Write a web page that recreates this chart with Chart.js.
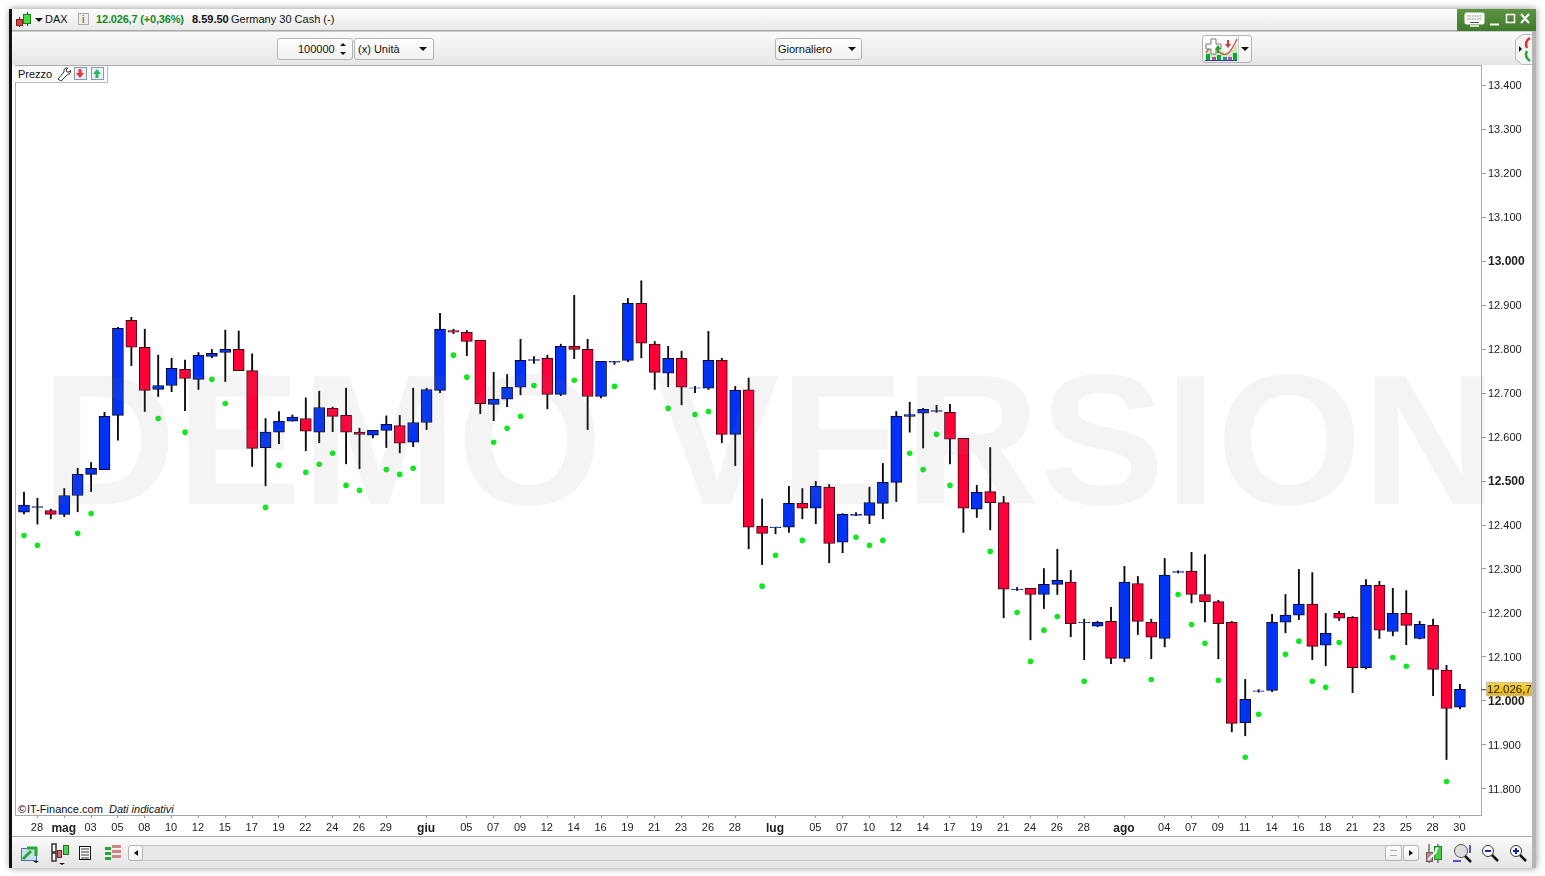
<!DOCTYPE html>
<html lang="it"><head><meta charset="utf-8"><title>DAX</title>
<script src="https://cdn.jsdelivr.net/npm/chart.js@4"></script>
<style>
html,body{margin:0;padding:0;width:1545px;height:876px;overflow:hidden;background:#fff;font:11px "Liberation Sans",Arial,sans-serif;color:#111}
div,span,svg{position:absolute;box-sizing:border-box}
span{white-space:nowrap;line-height:13px}
#win{left:10px;top:9px;width:1526px;height:859px;background:#fff;box-shadow:0 0 7px rgba(0,0,0,.45)}
#lb{left:9px;top:9px;width:3px;height:859px;background:#111}
#rb{left:1532px;top:9px;width:4px;height:859px;background:#b5b5b5}
#tb{left:12px;top:9px;width:1520px;height:21px;background:linear-gradient(#fdfdfd,#e9e9e9)}
#green{left:1457px;top:9px;width:79px;height:22px;background:linear-gradient(#5e9442,#3f7a2c)}
#ln{left:12px;top:30px;width:1520px;height:2px;border-top:1px solid #aaa;border-bottom:1px solid #ccc}
#tools{left:12px;top:32px;width:1520px;height:33px;background:linear-gradient(#fafafa,#e6e6e6)}
#plot{left:15px;top:65px;width:1467px;height:751px;background:#fff;border:1px solid #aaa}
#bot{left:12px;top:836px;width:1520px;height:32px;background:linear-gradient(#fafafa,#e4e4e4);border-top:1px solid #aaa}
.box{border:1px solid #b4b4b4;border-radius:3px;background:linear-gradient(#fff,#f0f0f0)}
#c{left:0;top:0;position:absolute}
#wm{left:41px;top:348px;font:bold 185px "Liberation Sans",Arial,sans-serif;line-height:185px;color:rgba(128,128,128,.09);pointer-events:none;white-space:pre;transform:scaleX(1.012);transform-origin:0 0}
.tri{width:0;height:0;border-left:4px solid transparent;border-right:4px solid transparent;border-top:4px solid #111}
</style></head><body>
<div id="win"></div><div id="tb"></div><div id="tools"></div><div id="ln"></div><div id="bot"></div><div id="lb"></div><div id="rb"></div><div id="green"></div>
<div id="plot"></div>

<svg style="left:15px;top:11px" width="17" height="17"><path d="M4.500 6v10M12.500 1v14" stroke="#333"/><rect x="1.500" y="8.500" width="6" height="6" fill="#e33" stroke="#722"/><rect x="8.500" y="3.500" width="7" height="9" fill="#4d4" stroke="#272"/></svg>
<div class="tri" style="left:35px;top:18px"></div>
<span style="left:45px;top:13px">DAX</span>
<div style="left:78px;top:13px;width:11px;height:12px;border:1px solid #aaa;background:#eee"></div><span style="left:82px;top:13px;color:#555">i</span>
<span style="left:96px;top:13px;font-weight:bold;color:#148a1e;letter-spacing:-.18px">12.026,7 (+0,36%)</span>
<span style="left:192px;top:13px;font-weight:bold">8.59.50</span>
<span style="left:231px;top:13px">Germany 30 Cash (-)</span>

<svg style="left:1464px;top:12px" width="21" height="15"><rect x="0.500" y="0.500" width="20" height="12" rx="2" fill="#fff"/><path d="M3 4h15M3 7h15" stroke="#777" stroke-dasharray="1.500 1"/><path d="M6 10.500h9" stroke="#555"/><path d="M6 14h9" stroke="#fff" stroke-width="1.500"/></svg>
<svg style="left:1489px;top:13px" width="44" height="13" fill="none" stroke="#fff" stroke-width="1.500"><path d="M1 11.500h9" stroke-width="2"/><rect x="17.500" y="1.500" width="8" height="8"/><path d="M32 1l8 9M40 1l-8 9" stroke-width="2"/></svg>

<div class="box" style="left:277px;top:38px;width:76px;height:22px"></div>
<span style="left:298px;top:43px">100000</span>
<div style="left:340px;top:43px;width:0;height:0;border-left:3px solid transparent;border-right:3px solid transparent;border-bottom:3px solid #111"></div>
<div style="left:340px;top:52px;width:0;height:0;border-left:3px solid transparent;border-right:3px solid transparent;border-top:3px solid #111"></div>
<div class="box" style="left:354px;top:38px;width:80px;height:22px"></div>
<span style="left:358px;top:43px">(x) Unità</span><div class="tri" style="left:419px;top:47px"></div>
<div class="box" style="left:775px;top:38px;width:87px;height:22px"></div>
<span style="left:778px;top:43px">Giornaliero</span><div class="tri" style="left:848px;top:47px"></div>
<div class="box" style="left:1202px;top:35px;width:50px;height:28px"></div>
<svg style="left:1203px;top:36px" width="35" height="26"><path d="M3 14Q9 4 16 12T30 12T34 3V22H3z" fill="#cfe6c0"/><path d="M3 17Q8 8 14 14T24 18T34 3" fill="none" stroke="#c44" stroke-width="1.200"/><path d="M3 8h5V3h5v5h5v5h-5v5H8v-5H3z" fill="#fff" stroke="#777"/><path d="M14 17h2v-4h2l-3-4-3 4h2z" fill="#1a2"/><path d="M24 4h2v4h2l-3 4-3-4h2z" fill="#d33"/><rect x="3" y="18" width="4" height="6" fill="#0a3"/><rect x="9" y="21" width="4" height="3" fill="#a5a"/><rect x="14" y="19" width="4" height="5" fill="#0a3"/><rect x="20" y="21" width="4" height="3" fill="#38a"/><rect x="25" y="21" width="4" height="3" fill="#a5a"/><rect x="30" y="17" width="4" height="7" fill="#0a3"/><path d="M2 24.500h32" stroke="#33a"/></svg>
<div style="left:1238px;top:36px;width:1px;height:26px;background:#ccc"></div><div class="tri" style="left:1241px;top:47px"></div>
<svg style="left:1514px;top:34px" width="19" height="31"><path d="M18 .500H8L1.500 6v19L8 30.500h10" fill="#f4f4f4" stroke="#bbb"/><path d="M8 15l-3 -3v6z" fill="#111"/><path d="M16 4q-6 4 -3 10" fill="none" stroke="#d33" stroke-width="2.500"/><path d="M16 27q-6 -4 -3 -10" fill="none" stroke="#2a3" stroke-width="2.500"/></svg>

<div style="left:15px;top:66px;width:93px;height:17px;background:#fafafa;border:1px solid #bbb;border-width:0 1px 1px 0"></div>
<span style="left:18px;top:68px">Prezzo</span>
<svg style="left:56px;top:66px" width="15" height="15"><path d="M2 13l6-7q-1-3 2-4l2 0-2 2 1 2 2 0 2-2q0 4-4 5l-6 6z" fill="#fff" stroke="#333"/></svg>
<svg style="left:74px;top:67px" width="34" height="14"><rect x=".500" y=".500" width="12" height="12" fill="#eef" stroke="#89a"/><path d="M4.500 2h3v4h2.500l-4 5-4-5h2.500z" fill="#e33"/><rect x="17.500" y=".500" width="12" height="12" fill="#eef" stroke="#89a"/><path d="M21.500 11h3v-4h2.500l-4-5-4 5h2.500z" fill="#2b5"/></svg>
<span style="left:18px;top:803px">©&#8202;IT-Finance.com &nbsp;<i>Dati indicativi</i></span>

<svg style="left:20px;top:843px" width="20" height="21"><rect x="1.500" y="5.500" width="15" height="12" fill="#cde" stroke="#47a"/><path d="M3 16l8-8M7 5h9v8" fill="none" stroke="#2a3" stroke-width="3"/><path d="M13 18h6l-3 2z" fill="#111"/></svg>
<svg style="left:45px;top:841px" width="25" height="25"><path d="M7 3h4v8H7zM7 12h4v8H7z" fill="#fff" stroke="#333" stroke-width="1.500"/><rect x="12.500" y="9.500" width="4" height="7" fill="#d66" stroke="#722"/><rect x="18.500" y="4.500" width="5" height="9" fill="#5c5" stroke="#272"/><path d="M14 22h6l-3 2z" fill="#111"/></svg>
<svg style="left:78px;top:845px" width="14" height="16"><rect x="1.500" y="1.500" width="11" height="13" fill="#fff" stroke="#111"/><path d="M3 4h8M3 7h8M3 10h8M3 13h8" stroke="#333"/></svg>
<svg style="left:105px;top:845px" width="17" height="16"><path d="M0 2h6v3H0zM0 7h6v3H0zM0 12h6v3H0z" fill="#2a3"/><path d="M7 0h9v3H7zM7 5h9v3H7zM7 10h9v3H7z" fill="#c88"/></svg>
<div style="left:128px;top:845px;width:1291px;height:16px;background:#e8e8e8;border:1px solid #c4c4c4;border-radius:3px"></div>
<div class="box" style="left:128px;top:845px;width:15px;height:16px"></div><div style="left:134px;top:850px;width:0;height:0;border-top:3px solid transparent;border-bottom:3px solid transparent;border-right:4px solid #111"></div>
<div class="box" style="left:1385px;top:845px;width:17px;height:16px"></div><div style="left:1390px;top:850px;width:7px;height:6px;border-top:1px solid #aaa;border-bottom:1px solid #aaa"></div>
<div class="box" style="left:1403px;top:845px;width:16px;height:16px"></div><div style="left:1409px;top:850px;width:0;height:0;border-top:3px solid transparent;border-bottom:3px solid transparent;border-left:4px solid #111"></div>
<svg style="left:1425px;top:843px" width="18" height="21"><path d="M4 1v19M13 1v19" stroke="#333"/><rect x="1.500" y="9.500" width="6" height="9" fill="#b88" stroke="#755"/><rect x="9.500" y="3.500" width="7" height="13" fill="#4c4" stroke="#282"/><path d="M3 17l8-8q-1-3 2-4" fill="none" stroke="#fff" stroke-width="2"/></svg>
<svg style="left:1452px;top:843px" width="21" height="21"><circle cx="9" cy="8" r="6.500" fill="#ddd" stroke="#555"/><path d="M13 13l6 6" stroke="#111" stroke-width="2.500"/><path d="M18 2v8M1 18h8" stroke="#22b" stroke-width="1.500"/></svg>
<svg style="left:1481px;top:844px" width="19" height="19"><circle cx="7" cy="7" r="5.500" fill="#fff" stroke="#333"/><path d="M4 7h6" stroke="#12b" stroke-width="2"/><path d="M11 11l6 6" stroke="#111" stroke-width="2.500"/></svg>
<svg style="left:1509px;top:844px" width="19" height="19"><circle cx="7" cy="7" r="5.500" fill="#fff" stroke="#333"/><path d="M4 7h6M7 4v6" stroke="#12b" stroke-width="2"/><path d="M11 11l6 6" stroke="#111" stroke-width="2.500"/></svg>

<canvas id="c" width="1545" height="876" style="width:1545px;height:876px"></canvas>
<div id="wm">DEMO VERSION</div>

<script>
const opens=[12429,12440,12433,12424,12467,12515,12526,12649,12865,12804,12708,12717,12754,12731,12783,12792,12799,12751,12576,12611,12636,12642,12611,12665,12649,12611,12604,12615,12626,12588,12633,12706,12842,12838,12820,12674,12686,12713,12774,12779,12697,12806,12799,12692,12770,12774,12904,12811,12745,12779,12711,12711,12774,12606,12707,12397,12394,12395,12449,12438,12486,12361,12422,12422,12449,12497,12647,12654,12658,12656,12597,12436,12476,12451,12253,12256,12242,12265,12270,12178,12170,12181,12097,12267,12179,12142,12292,12295,12242,12226,12179,11951,12022,12024,12179,12195,12220,12127,12199,12190,12076,12263,12158,12199,12142,12172,12070,11986];
const closes=[12445,12442,12424,12467,12515,12529,12647,12847,12804,12706,12717,12756,12733,12786,12790,12799,12751,12574,12611,12636,12645,12613,12667,12647,12611,12606,12615,12629,12586,12633,12708,12845,12838,12817,12676,12686,12713,12774,12776,12697,12806,12799,12692,12772,12772,12904,12813,12747,12779,12713,12712,12774,12606,12706,12395,12381,12395,12449,12438,12488,12358,12424,12424,12451,12497,12647,12651,12663,12660,12595,12438,12474,12451,12254,12254,12242,12265,12274,12176,12179,12179,12097,12270,12181,12145,12286,12294,12242,12226,12176,11949,12004,12023,12179,12195,12220,12124,12154,12188,12076,12263,12161,12199,12172,12174,12072,11983,12026.7];
const highs=[12475,12461,12436,12483,12529,12542,12656,12849,12872,12845,12786,12779,12775,12792,12799,12843,12841,12789,12642,12658,12650,12689,12704,12668,12711,12620,12615,12648,12649,12711,12711,12881,12845,12842,12820,12747,12742,12822,12783,12786,12811,12922,12822,12772,12772,12915,12955,12817,12806,12795,12715,12840,12779,12715,12734,12459,12395,12488,12483,12499,12492,12426,12428,12486,12540,12658,12679,12665,12672,12674,12597,12490,12576,12465,12258,12256,12301,12345,12297,12186,12181,12213,12306,12283,12186,12324,12296,12338,12333,12229,12181,12049,12026,12197,12242,12299,12292,12199,12204,12192,12276,12272,12256,12251,12181,12186,12081,12038];
const lows=[12425,12402,12414,12419,12430,12476,12526,12593,12762,12658,12692,12703,12660,12708,12780,12726,12751,12533,12489,12585,12636,12569,12587,12612,12539,12528,12598,12576,12564,12578,12617,12701,12835,12785,12653,12637,12669,12696,12767,12664,12694,12778,12617,12689,12765,12771,12780,12708,12714,12673,12701,12708,12587,12535,12346,12310,12380,12383,12414,12403,12314,12337,12421,12403,12414,12453,12611,12575,12656,12539,12383,12417,12389,12189,12251,12139,12210,12242,12146,12094,12169,12085,12089,12151,12096,12123,12291,12223,12180,12096,11930,11921,12020,12021,12155,12185,12094,12080,12183,12019,12073,12142,12148,12128,12141,12012,11867,11982];
const dotIndex=[0,1,4,5,10,12,14,15,18,19,21,22,23,24,25,27,28,29,32,33,35,36,37,38,41,44,48,50,51,55,56,58,62,63,64,66,67,68,69,72,74,75,76,77,79,84,86,87,88,89,91,92,94,95,96,97,98,102,103,106];
const dotValues=[12376,12354,12381,12426,12642,12611,12731,12676,12440,12536,12520,12538,12563,12490,12479,12526,12515,12529,12786,12736,12588,12620,12647,12717,12729,12715,12665,12651,12658,12261,12331,12365,12372,12354,12365,12563,12526,12606,12490,12340,12201,12090,12161,12192,12045,12049,12242,12174,12131,12047,11872,11970,12106,12136,12045,12031,12133,12099,12079,11817];
const yTicks=[13400,13300,13200,13100,13000,12900,12800,12700,12600,12500,12400,12300,12200,12100,12000,11900,11800];
const xTickIndex=[1,3,5,7,9,11,13,15,17,19,21,23,25,27,30,33,35,37,39,41,43,45,47,49,51,53,56,59,61,63,65,67,69,71,73,75,77,79,82,85,87,89,91,93,95,97,99,101,103,105,107];
const xTickLabels=['28','mag','03','05','08','10','12','15','17','19','22','24','26','29','giu','05','07','09','12','14','16','19','21','23','26','28','lug','05','07','10','12','14','17','19','21','24','26','28','ago','04','07','09','11','14','16','18','21','23','25','28','30'];
const monthLabels=['mag','giu','lug','ago'];
const lastPrice='12.026,7';

const UP='#0033f5',DOWN='#ff0038',FONT='"Liberation Sans",Arial,sans-serif';
const idx=opens.map((_,i)=>i);
const bodyColor=idx.map(i=>closes[i]>=opens[i]?UP:DOWN);
const bodyBorder=idx.map(i=>closes[i]>=opens[i]?'#05082e':'#3a0614');
const fmt=v=>String(v).replace(/\B(?=(\d{3})+$)/g,'.');

const priceTag={id:'priceTag',afterDraw(ch){
  const c=ch.ctx,y=ch.scales.y.getPixelForValue(closes[closes.length-1]),x=ch.chartArea.right+5;
  c.save();
  c.strokeStyle='#333';c.beginPath();c.moveTo(ch.chartArea.right,y+.5);c.lineTo(x,y+.5);c.stroke();
  const g=c.createLinearGradient(0,y-7,0,y+7);g.addColorStop(0,'#f8d848');g.addColorStop(1,'#e8ae0a');
  c.fillStyle=g;c.fillRect(x,y-7,46,14);
  c.strokeStyle='#c9c09a';c.strokeRect(x+.5,Math.round(y-7)+.5,45,13);
  c.fillStyle='#222';c.font='11.5px '+FONT;c.textAlign='left';c.textBaseline='middle';
  c.fillText(lastPrice,x+1,y+.5);
  c.restore();
}};

new Chart(document.getElementById('c'),{
  data:{datasets:[
    {type:'scatter',label:'SAR',order:0,data:dotIndex.map((x,i)=>({x,y:dotValues[i]})),showLine:false,pointRadius:2.8,pointBorderWidth:0,pointBackgroundColor:'#0fe81f'},
    {type:'bar',label:'Prezzo',order:1,grouped:false,data:idx.map(i=>({x:i,y:[opens[i],closes[i]]})),barThickness:11,backgroundColor:bodyColor,borderColor:bodyBorder,borderWidth:1,borderSkipped:false},
    {type:'bar',label:'Range',order:2,grouped:false,data:idx.map(i=>({x:i,y:[lows[i],highs[i]]})),barThickness:1.2,backgroundColor:'#0a0a0a',borderWidth:0}
  ]},
  plugins:[priceTag],
  options:{
    responsive:false,animation:false,devicePixelRatio:1,
    layout:{padding:{left:15,top:66,right:10,bottom:40}},
    plugins:{legend:{display:false},tooltip:{enabled:false}},
    scales:{
      x:{type:'linear',offset:false,min:-0.67,max:108.57,
        afterFit:s=>{s.height=21},
        afterBuildTicks:s=>{s.ticks=xTickIndex.map(value=>({value}))},
        grid:{offset:false,drawOnChartArea:false,drawTicks:true,tickLength:3,tickColor:'#999'},
        border:{display:false},
        ticks:{autoSkip:false,maxRotation:0,padding:3,labelOffset:-.5,color:'#222',
          font:ctx=>({family:FONT,size:monthLabels.includes(xTickLabels[xTickIndex.indexOf(ctx.tick&&ctx.tick.value)])?12:11,weight:monthLabels.includes(xTickLabels[xTickIndex.indexOf(ctx.tick&&ctx.tick.value)])?'bold':'normal'}),
          callback:v=>xTickLabels[xTickIndex.indexOf(v)]}},
      y:{type:'linear',position:'right',min:11740.9,max:13443.2,
        afterFit:s=>{s.width=54},
        afterBuildTicks:s=>{s.ticks=yTicks.map(value=>({value}))},
        grid:{drawOnChartArea:false,drawTicks:true,tickLength:5,tickColor:'#999'},
        border:{display:false},
        ticks:{padding:2,labelOffset:1,color:'#222',
          font:ctx=>{const b=ctx.tick&&ctx.tick.value%500===0;return {family:FONT,size:b?12:11,weight:b?'bold':'normal'}},
          callback:v=>fmt(v)}}
    }
  }
});
</script>
</body></html>
